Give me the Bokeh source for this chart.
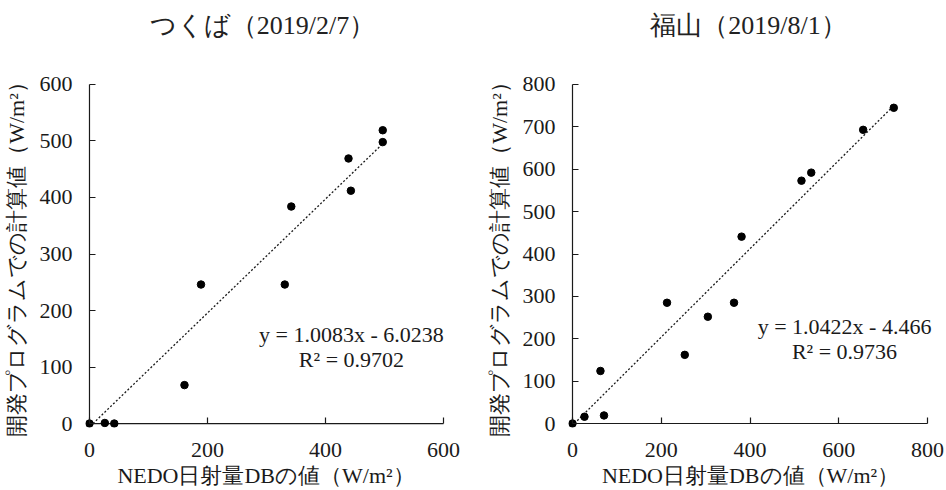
from bokeh.plotting import figure
from bokeh.layouts import row, column
from bokeh.models import Label, FixedTicker, Range1d
from bokeh.embed import file_html
from bokeh.resources import INLINE

# ---------------- data ----------------
tsukuba_title = "つくば（2019/2/7）"
tsukuba_nedo = [0, 26, 42, 161, 189, 331, 342, 439, 443, 497, 497]
tsukuba_calc = [0, 1, 0, 68, 246, 246, 384, 469, 412, 519, 498]
tsukuba_slope = 1.0083
tsukuba_intercept = -6.0238
tsukuba_r2 = 0.9702
tsukuba_xticks = [0, 200, 400, 600]
tsukuba_yticks = [0, 100, 200, 300, 400, 500, 600]

fukuyama_title = "福山（2019/8/1）"
fukuyama_nedo = [0, 27, 63, 71, 213, 253, 305, 364, 381, 516, 538, 655, 724]
fukuyama_calc = [0, 16, 124, 19, 285, 162, 252, 285, 441, 573, 592, 693, 745]
fukuyama_slope = 1.0422
fukuyama_intercept = -4.466
fukuyama_r2 = 0.9736
fukuyama_xticks = [0, 200, 400, 600, 800]
fukuyama_yticks = [0, 100, 200, 300, 400, 500, 600, 700, 800]

x_label = "NEDO日射量DBの値（W/m²）"
y_label = "開発プログラムでの計算値（W/m²）"

FONT = "Liberation Serif"
INK = "#1a1a1a"
PAD = 4        # px between frame edge and the drawn axis lines (keeps origin marker whole)
HEAD = 50      # height of the title strip
W, H = 473, 490


def header(titles):
    h = figure(width=2 * W, height=HEAD, output_backend="svg", toolbar_location=None,
               tools="", x_axis_type=None, y_axis_type=None,
               x_range=Range1d(0, 2 * W), y_range=Range1d(HEAD, 0),
               min_border=0)
    h.outline_line_color = None
    h.grid.visible = False
    for title, tx in titles:
        h.add_layout(Label(x=tx, y=25, text=title, text_align="center",
                           text_baseline="middle", text_font=FONT,
                           text_font_size="26px", text_color="#222222"))
    return h


def chart(xs, ys, slope, intercept, r2, xticks, yticks,
          ax_left, ax_right, ax_top, ax_bottom, frame_right, eq_xy, r2_xy):
    """ax_* : pixel position (within the chart figure) of the axis ends."""
    height = H - HEAD
    xmax, ymax = xticks[-1], yticks[-1]
    ppx = (ax_right - ax_left) / xmax     # px per unit x
    ppy = (ax_bottom - ax_top) / ymax     # px per unit y
    x_range = Range1d(-PAD / ppx, xmax + (frame_right - ax_right) / ppx)
    y_range = Range1d(-PAD / ppy, ymax + PAD / ppy)
    p = figure(width=W, height=height, output_backend="svg",
               toolbar_location=None, tools="",
               x_range=x_range, y_range=y_range,
               min_border_left=ax_left - PAD, min_border_right=W - frame_right,
               min_border_top=ax_top - PAD, min_border_bottom=height - ax_bottom - PAD)
    p.outline_line_color = None
    p.grid.visible = False

    for ax, ticks in ((p.xaxis[0], xticks), (p.yaxis[0], yticks)):
        ax.ticker = FixedTicker(ticks=ticks)
        ax.bounds = (0, ticks[-1])
        ax.axis_line_color = None
        ax.major_tick_line_color = INK
        ax.major_tick_line_width = 1.2
        ax.major_tick_in = 6 + PAD
        ax.major_tick_out = -PAD
        ax.minor_tick_line_color = None
        ax.major_label_text_font = FONT
        ax.major_label_text_font_size = "22px"
        ax.major_label_text_color = INK
        ax.axis_label_text_font = FONT
        ax.axis_label_text_font_size = "22px"
        ax.axis_label_text_font_style = "normal"
        ax.axis_label_text_color = INK
    p.xaxis.axis_label = x_label
    p.yaxis.axis_label = y_label
    p.xaxis.major_label_standoff = 15
    p.xaxis.axis_label_standoff = 3
    p.yaxis.major_label_standoff = 13
    p.yaxis.axis_label_standoff = 8

    # axis lines meeting at the origin
    p.segment(x0=[xticks[0], xticks[0]], y0=[yticks[0], yticks[0]],
              x1=[xticks[-1], xticks[0]], y1=[yticks[0], yticks[-1]],
              line_color=INK, line_width=1.2)

    # linear trendline from the fitted equation, over the data's x span
    x_start = max(min(xs), -intercept / slope)
    x_end = max(xs)
    p.line([x_start, x_end], [slope * x_start + intercept, slope * x_end + intercept],
           line_color=INK, line_width=1.3, line_dash="2 2")
    p.scatter(xs, ys, size=7.5, fill_color="black", line_color="black")

    sign = "-" if intercept < 0 else "+"
    eq = f"y = {slope}x {sign} {abs(intercept)}"
    r2t = f"R² = {r2}"
    for (lx, ly), txt in ((eq_xy, eq), (r2_xy, r2t)):
        p.add_layout(Label(x=lx, y=ly, text=txt, text_align="center",
                           text_baseline="middle", text_font=FONT,
                           text_font_size="22px", text_color=INK))
    return p


left = chart(tsukuba_nedo, tsukuba_calc, tsukuba_slope, tsukuba_intercept, tsukuba_r2,
             tsukuba_xticks, tsukuba_yticks,
             ax_left=88, ax_right=443, ax_top=81 - HEAD, ax_bottom=423 - HEAD,
             frame_right=446, eq_xy=(444, 158), r2_xy=(444, 114))
right = chart(fukuyama_nedo, fukuyama_calc, fukuyama_slope, fukuyama_intercept, fukuyama_r2,
              fukuyama_xticks, fukuyama_yticks,
              ax_left=99, ax_right=454, ax_top=84 - HEAD, ax_bottom=424 - HEAD,
              frame_right=459, eq_xy=(613, 228), r2_xy=(613, 169))

layout = column(header([(tsukuba_title, 262), (fukuyama_title, 748)]), row(left, right))
open("out.html", "w").write(file_html(layout, INLINE))
